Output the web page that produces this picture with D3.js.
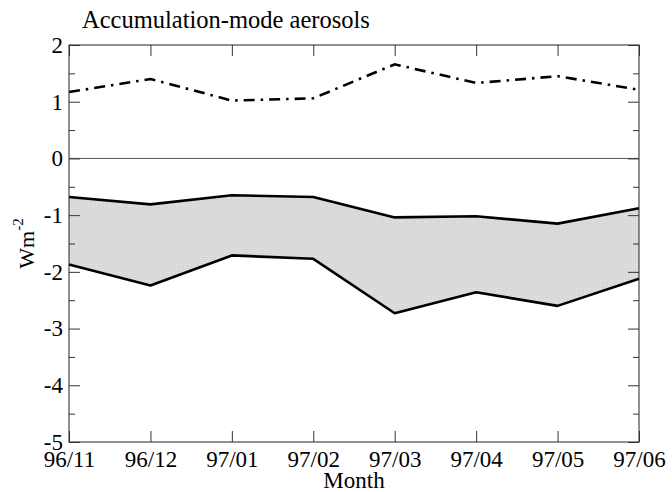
<!DOCTYPE html>
<html>
<head>
<meta charset="utf-8">
<script src="https://cdn.jsdelivr.net/npm/d3@7"></script>
<style>
  html, body { margin: 0; padding: 0; background: #fff; }
  svg text { font-family: "Liberation Serif", "Times New Roman", Times, serif !important; fill: #000; }
</style>
</head>
<body>
<svg id="chart" width="672" height="492"></svg>
<script>
// Monthly radiative forcing of accumulation-mode aerosols (W m^-2)
const months = ["96/11", "96/12", "97/01", "97/02", "97/03", "97/04", "97/05", "97/06"];
const positiveForcing = [1.17, 1.40, 1.02, 1.06, 1.66, 1.33, 1.45, 1.21];
const bandUpper = [-0.68, -0.81, -0.65, -0.68, -1.04, -1.02, -1.15, -0.88];
const bandLower = [-1.87, -2.24, -1.71, -1.77, -2.73, -2.36, -2.60, -2.12];
const yMajorTicks = [2, 1, 0, -1, -2, -3, -4, -5];
const yMinorTicks = [1.5, 0.5, -0.5, -1.5, -2.5, -3.5, -4.5];

const W = 672, H = 492;
const margin = { top: 45, right: 33, bottom: 50, left: 69 };
const iw = W - margin.left - margin.right;
const ih = H - margin.top - margin.bottom;
const serif = '"Liberation Serif", "Times New Roman", Times, serif';

const svg = d3.select("#chart");
const g = svg.append("g").attr("transform", `translate(${margin.left},${margin.top})`);

const x = d3.scalePoint().domain(months).range([0, iw]);
const y = d3.scaleLinear().domain([-5, 2]).range([ih, 0]);

// dotted light-grey fill pattern for the band
const defs = svg.append("defs");
const pat = defs.append("pattern").attr("id", "dots").attr("width", 2).attr("height", 2)
  .attr("patternUnits", "userSpaceOnUse");
pat.append("rect").attr("width", 2).attr("height", 2).attr("fill", "#dedede");
pat.append("rect").attr("width", 1).attr("height", 1).attr("fill", "#cfcfcf");

const bandData = months.map((m, i) => ({ m, hi: bandUpper[i], lo: bandLower[i] }));

g.append("path").datum(bandData)
  .attr("fill", "url(#dots)")
  .attr("d", d3.area().x(d => x(d.m)).y0(d => y(d.lo)).y1(d => y(d.hi)));

// zero line
g.append("line").attr("x1", 0).attr("x2", iw).attr("y1", y(0)).attr("y2", y(0))
  .attr("stroke", "#555").attr("stroke-width", 1);

const line = d3.line().x(d => x(d[0]));

g.append("path").datum(months.map((m, i) => [m, bandUpper[i]]))
  .attr("fill", "none").attr("stroke", "#000").attr("stroke-width", 2.6)
  .attr("stroke-linejoin", "round")
  .attr("d", line.y(d => y(d[1])));

g.append("path").datum(months.map((m, i) => [m, bandLower[i]]))
  .attr("fill", "none").attr("stroke", "#000").attr("stroke-width", 2.6)
  .attr("stroke-linejoin", "round")
  .attr("d", line.y(d => y(d[1])));

g.append("path").datum(months.map((m, i) => [m, positiveForcing[i]]))
  .attr("fill", "none").attr("stroke", "#000").attr("stroke-width", 2.6)
  .attr("stroke-dasharray", "11,6,2.5,6")
  .attr("d", line.y(d => y(d[1])));

// frame
g.append("rect").attr("x", 0).attr("y", 0).attr("width", iw).attr("height", ih)
  .attr("fill", "none").attr("stroke", "#222").attr("stroke-width", 1);

// axes: ticks point inward, labels on left and bottom only
const fontSize = 23;
const yAxis = d3.axisLeft(y).tickValues(yMajorTicks).tickSize(-11).tickPadding(6)
  .tickFormat(d => String(d));
const yAxisG = g.append("g").call(yAxis).attr("font-family", serif);
yAxisG.select(".domain").remove();
yAxisG.selectAll("text").attr("font-size", fontSize).attr("x", -6)
  .attr("dy", "0.32em");

g.append("g").call(d3.axisLeft(y).tickValues(yMinorTicks).tickSize(-6).tickFormat(""))
  .select(".domain").remove();

const yRight = g.append("g").attr("transform", `translate(${iw},0)`)
  .call(d3.axisRight(y).tickValues(yMajorTicks).tickSize(-11).tickFormat(""));
yRight.select(".domain").remove();
const yRightMinor = g.append("g").attr("transform", `translate(${iw},0)`)
  .call(d3.axisRight(y).tickValues(yMinorTicks).tickSize(-6).tickFormat(""));
yRightMinor.select(".domain").remove();

const xAxisG = g.append("g").attr("transform", `translate(0,${ih})`)
  .call(d3.axisBottom(x).tickSize(-11).tickPadding(0)).attr("font-family", serif);
xAxisG.select(".domain").remove();
xAxisG.selectAll("text").attr("font-size", fontSize).attr("y", 25).attr("dy", 0);

g.append("g").call(d3.axisTop(x).tickSize(-11).tickFormat(""))
  .select(".domain").remove();

g.selectAll(".tick line").attr("stroke", "#333");

// titles
svg.append("text").attr("x", 82).attr("y", 28).attr("font-size", 24.5)
  .attr("font-family", serif).text("Accumulation-mode aerosols");

svg.append("text").attr("x", margin.left + iw / 2).attr("y", 488)
  .attr("text-anchor", "middle").attr("font-size", 23).attr("font-family", serif)
  .text("Month");

const yl = svg.append("text")
  .attr("transform", `translate(34,${margin.top + y(-1.5)}) rotate(-90)`)
  .attr("text-anchor", "middle").attr("font-size", 22).attr("font-family", serif);
yl.append("tspan").text("Wm");
yl.append("tspan").attr("font-size", 15).attr("dy", -11).text("-2");
</script>
</body>
</html>
